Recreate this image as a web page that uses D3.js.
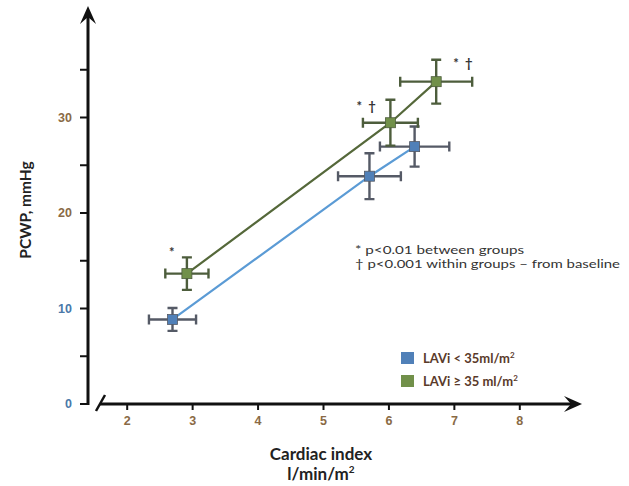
<!DOCTYPE html>
<html><head><meta charset="utf-8">
<script src="https://cdn.jsdelivr.net/npm/d3@7"></script>
<style>
html,body{margin:0;padding:0;background:#fff;}
svg{display:block;font-family:Lato,"Open Sans",sans-serif;}
</style></head>
<body>
<svg id="chart" width="629" height="486"></svg>
<script>
// ---- data ----
const seriesNames = ["LAVi < 35ml/m²", "LAVi ≥ 35 ml/m²"];
const blueX   = [2.70, 5.71, 6.40];
const blueY   = [8.8, 23.8, 26.9];
const blueXErr = [0.36, 0.48, 0.53];
const blueYErr = [1.2, 2.4, 2.1];
const greenX  = [2.92, 6.03, 6.73];
const greenY  = [13.6, 29.4, 33.7];
const greenXErr = [0.33, 0.42, 0.55];
const greenYErr = [1.7, 2.4, 2.3];
const greenMarks = ["*", "* †", "* †"];
const xTicks = [2, 3, 4, 5, 6, 7, 8];
const yTicksMajor = [0, 10, 20, 30];
const yTicksMinor = [5, 15, 25, 35];
const footnotes = ["* p<0.01 between groups", "† p<0.001 within groups – from baseline"];

const svg = d3.select("#chart");
const x = d3.scaleLinear().domain([2, 8]).range([126.7, 519.3]);
const y = d3.scaleLinear().domain([0, 30]).range([403.5, 117]);

const axisX0 = 88;   // y-axis position
const axisY0 = 404;  // x-axis position

// ---- y axis ----
svg.append("line").attr("x1", axisX0).attr("x2", axisX0).attr("y1", axisY0 + 1).attr("y2", 12)
  .attr("stroke", "#111").attr("stroke-width", 3);
svg.append("path").attr("d", `M${axisX0-8},${24} L${axisX0},${6} L${axisX0+8},${24} L${axisX0},${17} Z`).attr("fill", "#111");
const yAxis = d3.axisLeft(y).tickValues(yTicksMajor.concat(yTicksMinor)).tickSize(8)
  .tickFormat(d => yTicksMajor.includes(d) ? d : "");
const gy = svg.append("g").attr("transform", `translate(${axisX0},0)`).call(yAxis);
gy.select(".domain").remove();
gy.selectAll(".tick line").attr("stroke", "#111").attr("stroke-width", 2);
gy.selectAll(".tick text").attr("x", -16).attr("font-size", 12.5).attr("font-weight", "bold")
  .attr("fill", d => d >= 20 ? "#8a6a45" : "#4a78a8");

// ---- x axis ----
svg.append("line").attr("x1", 100).attr("x2", 572).attr("y1", axisY0).attr("y2", axisY0)
  .attr("stroke", "#111").attr("stroke-width", 3);
svg.append("path").attr("d", `M${564},${axisY0-8} L${582},${axisY0} L${564},${axisY0+8} L${571},${axisY0} Z`).attr("fill", "#111");
svg.append("line").attr("x1", 96).attr("y1", 411).attr("x2", 105).attr("y2", 395)
  .attr("stroke", "#111").attr("stroke-width", 2.5);
const xAxis = d3.axisBottom(x).tickValues(xTicks).tickSize(6).tickFormat(d3.format("d"));
const gx = svg.append("g").attr("transform", `translate(0,${axisY0})`).call(xAxis);
gx.select(".domain").remove();
gx.selectAll(".tick line").attr("stroke", "#111").attr("stroke-width", 2);
gx.selectAll(".tick text").attr("y", 12).attr("font-size", 12.5).attr("font-weight", "bold").attr("fill", "#8a6a45");

// ---- axis titles ----
svg.append("text").attr("transform", "translate(31,210) rotate(-90)").attr("text-anchor", "middle")
  .attr("font-size", 15.5).attr("font-weight", "bold").attr("fill", "#222").text("PCWP, mmHg");
svg.append("text").attr("x", 321).attr("y", 460).attr("text-anchor", "middle")
  .attr("font-size", 17).attr("font-weight", "bold").attr("fill", "#222").text("Cardiac index");
const u = svg.append("text").attr("x", 321).attr("y", 480).attr("text-anchor", "middle")
  .attr("font-size", 17).attr("font-weight", "bold").attr("fill", "#222");
u.append("tspan").text("l/min/m");
u.append("tspan").attr("font-size", 10).attr("dy", -7).text("2");

// ---- series ----
const series = [
  {xs: blueX, ys: blueY, xe: blueXErr, ye: blueYErr, line: "#5b9bd5", err: "#555a66", fill: "#5080b8"},
  {xs: greenX, ys: greenY, xe: greenXErr, ye: greenYErr, line: "#55683a", err: "#4d5d3c", fill: "#71904a"}
];
const line = d3.line().x(d => x(d[0])).y(d => y(d[1]));
series.forEach(s => {
  const pts = s.xs.map((v, i) => [v, s.ys[i]]);
  svg.append("path").datum(pts).attr("d", line).attr("fill", "none").attr("stroke", s.line).attr("stroke-width", 2.2);
});
series.forEach(s => {
  const g = svg.append("g");
  s.xs.forEach((v, i) => {
    const cx = x(v), cy = y(s.ys[i]);
    const x1 = x(v - s.xe[i]), x2 = x(v + s.xe[i]);
    const y1 = y(s.ys[i] + s.ye[i]), y2 = y(s.ys[i] - s.ye[i]);
    const c = 5;
    const d = `M${x1},${cy}H${x2}M${cx},${y1}V${y2}` +
      `M${x1},${cy-c}V${cy+c}M${x2},${cy-c}V${cy+c}` +
      `M${cx-c},${y1}H${cx+c}M${cx-c},${y2}H${cx+c}`;
    g.append("path").attr("d", d).attr("fill", "none").attr("stroke", s.err).attr("stroke-width", 2.4);
    g.append("rect").attr("x", cx - 5).attr("y", cy - 5).attr("width", 10).attr("height", 10)
      .attr("fill", s.fill).attr("stroke", s.err).attr("stroke-width", 0.8);
  });
});

// ---- significance marks on green series ----
const markOffX = [-18, -34, 17];
const markOffY = [-17, -12, -14];
greenX.forEach((v, i) => {
  svg.append("text").attr("x", x(v) + markOffX[i]).attr("y", y(greenY[i]) + markOffY[i])
    .attr("font-size", 13).attr("font-weight", "bold").attr("fill", "#333")
    .attr("xml:space", "preserve").text(greenMarks[i].replace(" ", "  "));
});

// ---- footnotes ----
const fnLen = [169, 265];
footnotes.forEach((t, i) => {
  svg.append("text").attr("x", 355).attr("y", 254 + i * 14).attr("font-size", 12)
    .attr("textLength", fnLen[i]).attr("lengthAdjust", "spacingAndGlyphs")
    .attr("fill", "#333").text(t);
});

// ---- legend ----
seriesNames.forEach((n, i) => {
  const ly = 352 + i * 23;
  svg.append("rect").attr("x", 401).attr("y", ly).attr("width", 13).attr("height", 12)
    .attr("fill", series[i].fill);
  const t = svg.append("text").attr("x", 423).attr("y", ly + 11).attr("font-size", 13)
    .attr("font-weight", "bold").attr("fill", "#5a3a2a");
  const base = n.replace("²", "");
  t.append("tspan").text(base);
  t.append("tspan").attr("font-size", 8).attr("dy", -5).text("2");
});
</script>
</body></html>
